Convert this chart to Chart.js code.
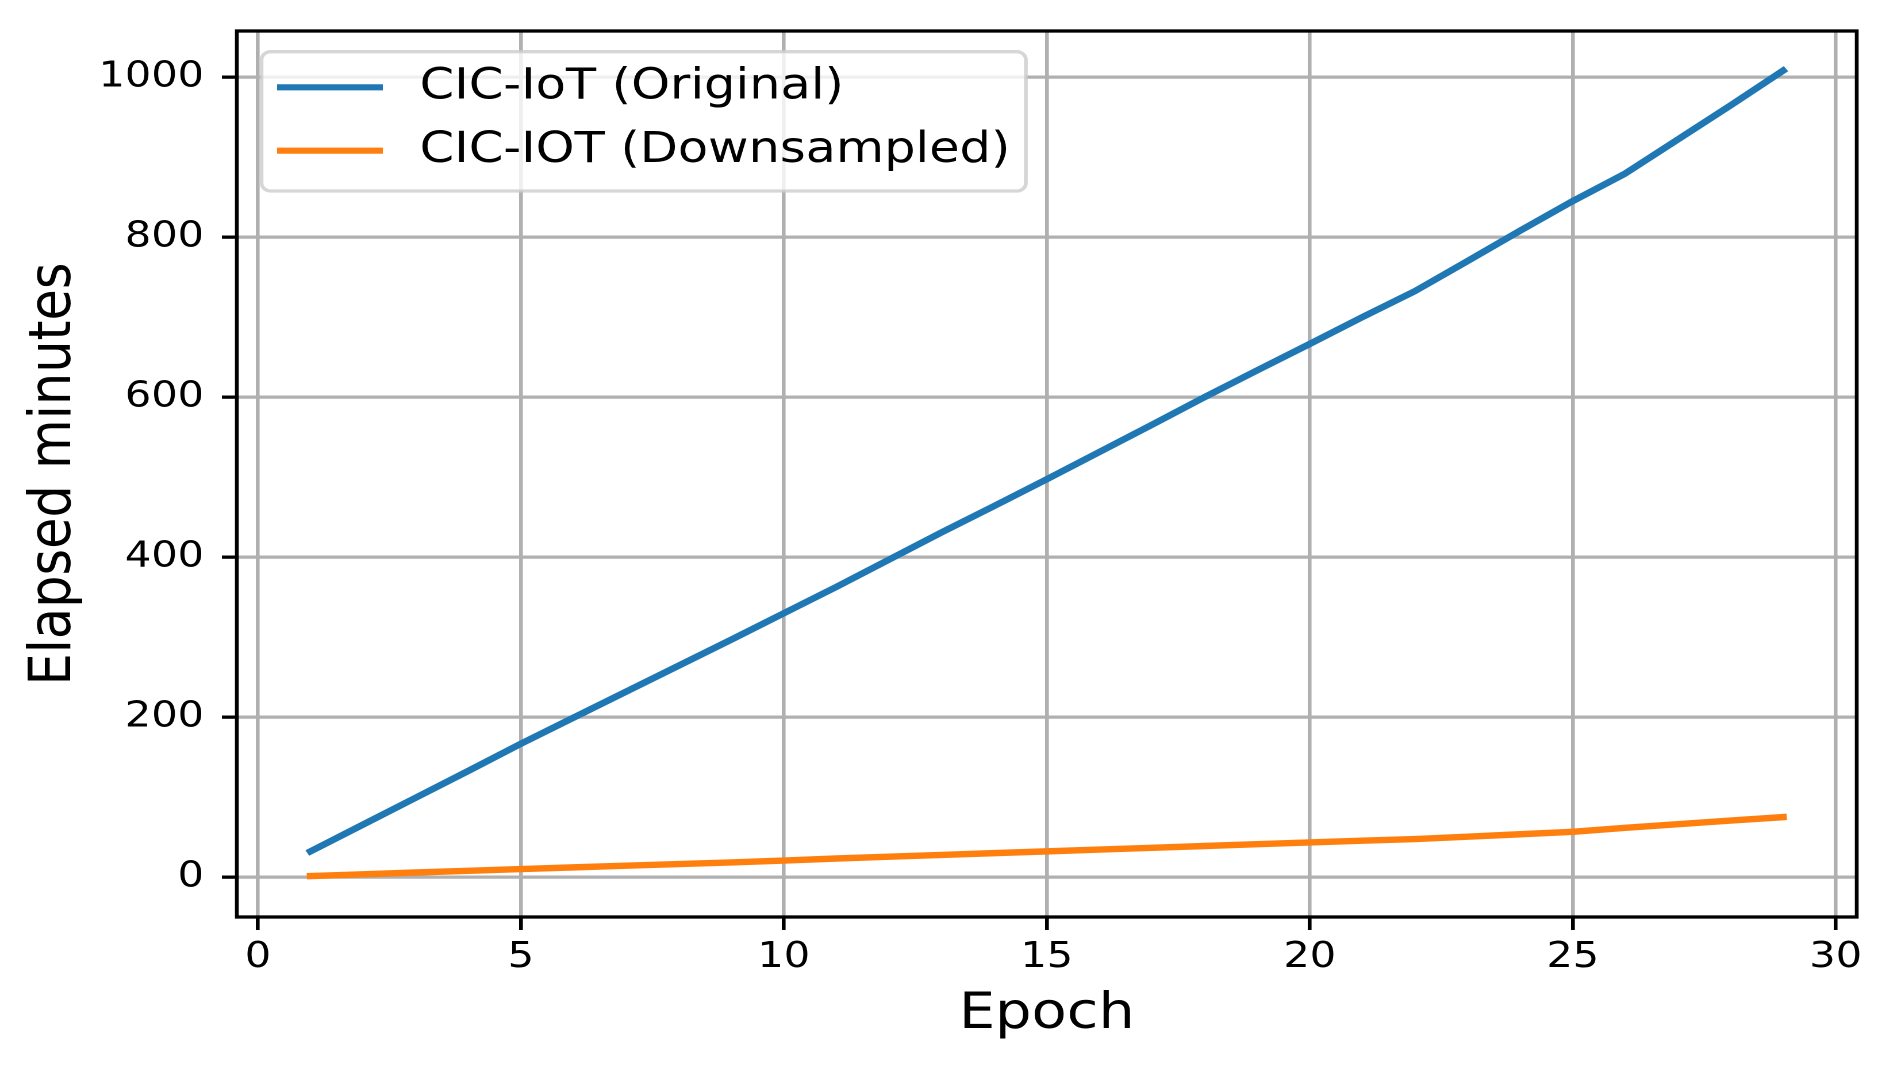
<!DOCTYPE html>
<html>
<head>
<meta charset="utf-8">
<script src="https://cdn.jsdelivr.net/npm/chart.js@4.4.1/dist/chart.umd.min.js"></script>
<style>
  html, body { margin: 0; padding: 0; background: #fff; overflow: hidden; }
  /* the reference figure is stretched sideways, so the canvas is too */
  #chart { display: block; transform: scaleX(1.14967); transform-origin: 0 0; }
</style>
</head>
<body>
<canvas id="chart" width="1637" height="1068"></canvas>
<script>
(function() {

  "use strict";

  var epochs = [1, 2, 3, 4, 5, 6, 7, 8, 9, 10, 11, 12, 13, 14, 15,
    16, 17, 18, 19, 20, 21, 22, 23, 24, 25, 26, 27, 28, 29];

  var originalMinutes = [32.5, 66, 99.5, 133, 167, 199.5, 232, 264.5, 297, 330,
    363, 397, 431, 464, 497.5, 531.5, 565.5, 600, 633.5, 666.5,
    700, 732.5, 770, 808, 845, 879.5, 922, 964.5, 1008];

  var downsampledMinutes = [1.7, 3.9, 6.1, 8.2, 10.4, 12.5, 14.6, 16.7, 18.7, 21,
    23.6, 25.8, 28.1, 30.3, 32.5, 34.7, 37, 39.2, 41.5, 43.7,
    45.8, 47.9, 50.8, 53.9, 57, 62, 66.5, 71, 75.3];

  var seriesLabels = ["CIC-IoT (Original)", "CIC-IOT (Downsampled)"];
  var xTicks = [0, 5, 10, 15, 20, 25, 30];
  var yTicks = [0, 200, 400, 600, 800, 1000];

  function points(values) {
    return epochs.map(function(e, i) { return { x: e, y: values[i] }; });
  }

  var gridColor = "#b0b0b0";
  var thin = 3.3;

  // top/right spines as well as left/bottom, like matplotlib
  var spines = {
    id: "spines",
    afterDatasetsDraw: function(chart) {
      var a = chart.chartArea, ctx = chart.ctx;
      ctx.save();
      ctx.strokeStyle = "#000";
      ctx.lineWidth = thin;
      ctx.strokeRect(a.left, a.top, a.right - a.left, a.bottom - a.top);
      ctx.restore();
    }
  };

  // framed legend in the upper left corner
  var boxLegend = {
    id: "boxLegend",
    afterDraw: function(chart) {
      var ctx = chart.ctx;
      var x = 227.5, y = 51.7, w = 664.8, h = 139.3;
      ctx.save();
      ctx.beginPath();
      ctx.roundRect(x, y, w, h, 8);
      ctx.fillStyle = "rgba(255,255,255,0.8)";
      ctx.fill();
      ctx.strokeStyle = "rgba(204,204,204,0.8)";
      ctx.lineWidth = thin;
      ctx.stroke();
      ctx.font = "43px 'DejaVu Sans'";
      ctx.textBaseline = "middle";
      ctx.fillStyle = "#000";
      chart.data.datasets.forEach(function(ds, i) {
        var ly = 87.3 + i * 63.4;
        ctx.beginPath();
        ctx.moveTo(241, ly);
        ctx.lineTo(333, ly);
        ctx.strokeStyle = ds.borderColor;
        ctx.lineWidth = 6.2;
        ctx.stroke();
        ctx.fillText(ds.label, 365, ly);
      });
      ctx.restore();
    }
  };

  // axis sizes are fixed so the plot box lands where the reference has it
  function fixX(s) {
    s.height = 151;
    s.paddingLeft = 0;
    s.paddingRight = 0;
  }
  function fixY(s) {
    s.width = 206;
    s.paddingTop = 0;
    s.paddingBottom = 0;
  }

  Chart.defaults.font.family = "'DejaVu Sans', sans-serif";
  Chart.defaults.color = "#000";

  new Chart(document.getElementById("chart"), {
    type: "line",
    data: {
      datasets: [
        {
          label: seriesLabels[0],
          data: points(originalMinutes),
          borderColor: "#1f77b4",
          borderWidth: 6.4,
          borderCapStyle: "square",
          borderJoinStyle: "round",
          pointRadius: 0,
          tension: 0,
          fill: false
        },
        {
          label: seriesLabels[1],
          data: points(downsampledMinutes),
          borderColor: "#ff7f0e",
          borderWidth: 6.4,
          borderCapStyle: "square",
          borderJoinStyle: "round",
          pointRadius: 0,
          tension: 0,
          fill: false
        }
      ]
    },
    options: {
      responsive: false,
      animation: false,
      devicePixelRatio: 2,
      layout: { padding: { left: 0, right: 22, top: 31, bottom: 0 } },
      plugins: {
        legend: { display: false },
        tooltip: { enabled: false }
      },
      scales: {
        x: {
          type: "linear",
          min: -0.4,
          max: 30.4,
          afterBuildTicks: function(s) {
            s.ticks = xTicks.map(function(v) { return { value: v }; });
          },
          afterFit: fixX,
          grid: {
            color: gridColor,
            lineWidth: thin,
            tickLength: 13,
            tickColor: "#000",
            tickWidth: thin
          },
          border: { display: false },
          ticks: {
            font: { size: 36 },
            padding: 6,
            autoSkip: false,
            maxRotation: 0,
            callback: function(v) { return String(v); }
          },
          title: {
            display: true,
            text: "Epoch",
            font: { size: 50 },
            padding: { top: 0, bottom: 23 }
          }
        },
        y: {
          min: -49.5,
          max: 1057.5,
          afterBuildTicks: function(s) {
            s.ticks = yTicks.map(function(v) { return { value: v }; });
          },
          afterFit: fixY,
          grid: {
            color: gridColor,
            lineWidth: thin,
            tickLength: 13,
            tickColor: "#000",
            tickWidth: thin
          },
          border: { display: false },
          ticks: {
            font: { size: 36 },
            padding: 15.6,
            callback: function(v) { return String(v); }
          },
          title: {
            display: true,
            text: "Elapsed minutes",
            font: { size: 51 },
            padding: { top: 17, bottom: 0 }
          }
        }
      }
    },
    plugins: [spines, boxLegend]
  });

})();
</script>
</body>
</html>
